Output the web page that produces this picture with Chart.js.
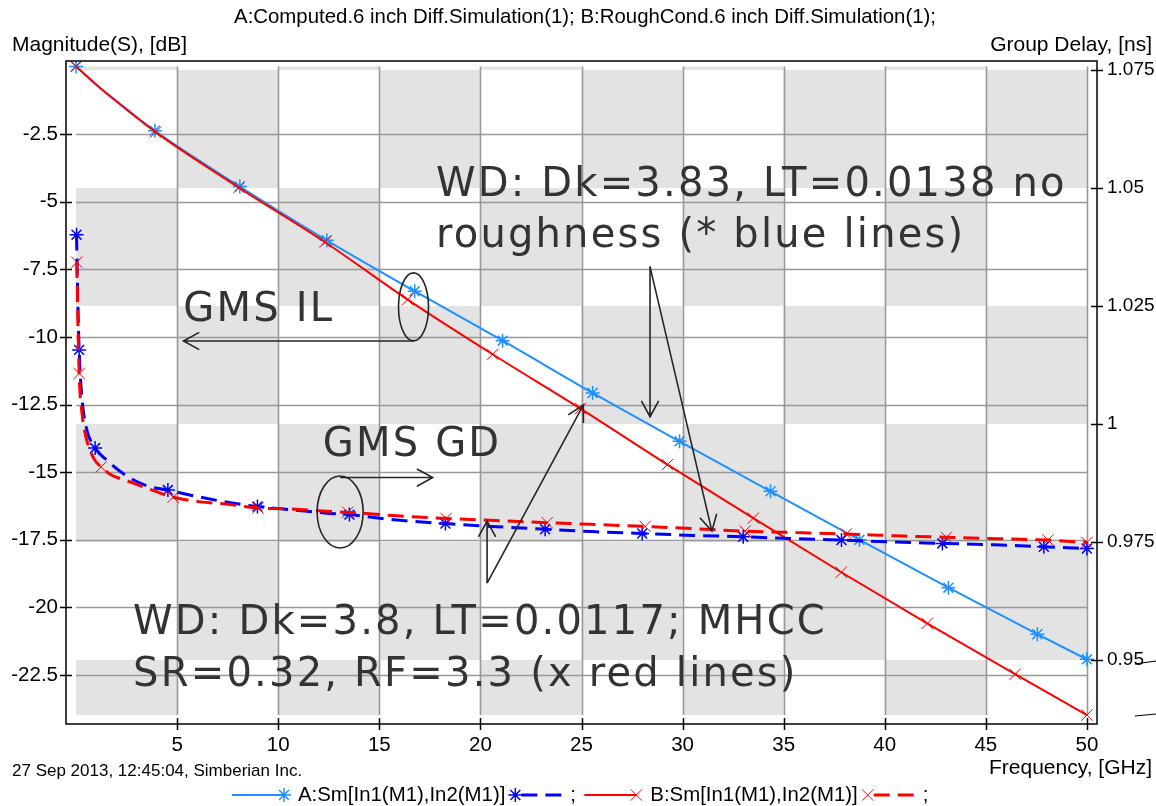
<!DOCTYPE html>
<html><head><meta charset="utf-8">
<script src="https://cdn.jsdelivr.net/npm/chart.js@4.4.0/dist/chart.umd.min.js"></script>
<style>html,body{margin:0;padding:0;background:#fff;overflow:hidden}canvas{display:block}</style>
</head><body>
<canvas id="c" width="1156" height="806"></canvas>
<script>
// ---------------- text ----------------
const titleText = 'A:Computed.6 inch Diff.Simulation(1); B:RoughCond.6 inch Diff.Simulation(1);';
const leftAxisTitle = 'Magnitude(S), [dB]';
const rightAxisTitle = 'Group Delay, [ns]';
const xAxisTitle = 'Frequency, [GHz]';
const stampText = '27 Sep 2013, 12:45:04, Simberian Inc.';
const seriesNames = ['A:Sm[In1(M1),In2(M1)]', 'B:Sm[In1(M1),In2(M1)]'];

// ---------------- ticks ----------------
const xTicks = [5, 10, 15, 20, 25, 30, 35, 40, 45, 50];
const yTicks = [-2.5, -5, -7.5, -10, -12.5, -15, -17.5, -20, -22.5];
const y2Ticks = [0.95, 0.975, 1, 1.025, 1.05, 1.075];

// ---------------- A: insertion loss (dB) ----------------
const ilA_f  = [0, 1, 2, 3.9, 8.1, 12.4, 16.75, 21.1, 25.55, 29.85, 34.35, 38.75, 43.15, 47.55, 50];
const ilA_db = [0, -0.68, -1.28, -2.38, -4.44, -6.43, -8.31, -10.14, -12.07, -13.86, -15.71, -17.5, -19.27, -20.99, -21.92];
const ilA_markers = [0, 3.9, 8.1, 12.4, 16.75, 21.1, 25.55, 29.85, 34.35, 38.75, 43.15, 47.55, 50];

// ---------------- B: insertion loss (dB) ----------------
const ilB_f  = [0, 1, 2, 3.93, 8.05, 12.3, 16.4, 20.6, 24.95, 29.25, 33.5, 37.85, 42.1, 46.45, 50];
const ilB_db = [0, -0.68, -1.3, -2.43, -4.48, -6.49, -8.62, -10.64, -12.65, -14.72, -16.7, -18.7, -20.59, -22.47, -23.98];
const ilB_markers = [0, 3.93, 8.05, 12.3, 16.4, 20.6, 24.95, 29.25, 33.5, 37.85, 42.1, 46.45, 50];

// ---------------- A: group delay (ns) ----------------
const gdA_f  = [0.02, 0.08, 0.15, 0.3, 0.5, 0.94, 1.5, 2.5, 3.5, 4.54, 5.8, 7.5, 8.97, 10.7, 12.4, 13.52, 15.7, 18.27, 20.5, 23.2, 25.5, 28.0, 30.5, 33.0, 35.5, 37.86, 40.4, 42.85, 45.4, 47.87, 50];
const gdA_ns = [1.0401, 1.027, 1.0157, 1.005, 0.9993, 0.9949, 0.9924, 0.989, 0.9869, 0.986, 0.9848, 0.9834, 0.9825, 0.9818, 0.9811, 0.9808, 0.9797, 0.9789, 0.9783, 0.9777, 0.9772, 0.9768, 0.9764, 0.9761, 0.9757, 0.9754, 0.975, 0.9747, 0.9744, 0.974, 0.9736];
const gdA_markers = [0.02, 0.15, 0.94, 4.54, 8.97, 13.52, 18.27, 23.2, 28.0, 33.0, 37.86, 42.85, 47.87, 50];

// ---------------- B: group delay (ns) ----------------
const gdB_f  = [0.03, 0.15, 0.3, 0.5, 0.9, 1.24, 1.7, 2.5, 3.5, 4.8, 6.15, 7.5, 9.0, 10.7, 12.4, 13.44, 15.7, 18.3, 20.5, 23.3, 25.7, 28.15, 30.6, 33.09, 35.6, 38.1, 40.6, 43.05, 45.6, 48.07, 50];
const gdB_ns = [1.0343, 1.0107, 1.002, 0.997, 0.9925, 0.9909, 0.9893, 0.988, 0.9864, 0.9845, 0.9835, 0.983, 0.9822, 0.982, 0.9815, 0.9813, 0.9806, 0.98, 0.9796, 0.9791, 0.9787, 0.9783, 0.9778, 0.9773, 0.977, 0.9767, 0.9763, 0.976, 0.9757, 0.9754, 0.9749];
const gdB_markers = [0.03, 0.15, 1.24, 4.8, 9.0, 13.44, 18.3, 23.3, 28.15, 33.09, 38.1, 43.05, 48.07, 50];

// ---------------- annotations (data units: GHz, dB on left axis) ----------------
const noteTexts = [
  {t: 'WD: Dk=3.83, LT=0.0138 no', x: 17.8, y: -4.78},
  {t: 'roughness (* blue lines)',  x: 17.8, y: -6.66},
  {t: 'GMS IL',                    x: 5.3,  y: -9.41},
  {t: 'GMS GD',                    x: 12.2, y: -14.4},
  {t: 'WD: Dk=3.8, LT=0.0117; MHCC', x: 2.82, y: -20.98},
  {t: 'SR=0.32, RF=3.3 (x red lines)', x: 2.82, y: -22.9}
];
const noteEllipses = [ {x: 16.69, y: -8.89, rx: 15, ry: 34}, {x: 13.06, y: -16.47, rx: 23, ry: 36} ];
const noteArrows = [
  {x1: 16.69, y1: -10.15, x2: 5.31,  y2: -10.15},
  {x1: 13.06, y1: -15.2,  x2: 17.64, y2: -15.2},
  {x1: 28.39, y1: -7.4,   x2: 28.39, y2: -12.95},
  {x1: 28.39, y1: -7.4,   x2: 31.45, y2: -17.18},
  {x1: 20.33, y1: -19.1,  x2: 20.33, y2: -16.81},
  {x1: 20.33, y1: -19.1,  x2: 25.09, y2: -12.52}
];

const UI_FONT = '"Liberation Sans", Arial, sans-serif';
const NOTE_FONT = '"DejaVu Sans", Verdana, sans-serif';
const COL_A_IL = '#1E90FF', COL_A_GD = '#0000FF', COL_B = '#FF0000';

function pts(fs, vs) { return fs.map((f, i) => ({x: f, y: vs[i]})); }
function markerRadius(list, r) { const s = new Set(list); return c => (c.raw && s.has(c.raw.x)) ? r : 0; }

const ticksFrom = arr => scale => { scale.ticks = arr.map(v => ({value: v})); };
const plainLabel = v => String(parseFloat(Number(v).toFixed(4)));

const backdrop = {
  id: 'backdrop',
  beforeDraw(chart) {
    const {ctx} = chart; const sx = chart.scales.x, sy = chart.scales.y, s2 = chart.scales.y2;
    const allF = ilA_f.concat(ilB_f), allDb = ilA_db.concat(ilB_db);
    const fMin = Math.min(...allF), fMax = Math.max(...allF);
    const L = sx.getPixelForValue(fMin), R = sx.getPixelForValue(fMax);
    const T = sy.getPixelForValue(Math.max(...allDb)), B = sy.getPixelForValue(Math.min(...allDb));
    const colB = [L].concat(xTicks.map(v => sx.getPixelForValue(v)));
    if (colB[colB.length - 1] < R) colB.push(R);
    const rowB = [T].concat(y2Ticks.slice().sort((a, b) => b - a).map(v => s2.getPixelForValue(v))).concat([B]);
    ctx.save();
    ctx.fillStyle = '#E3E3E3';
    for (let c = 0; c < colB.length - 1; c++) {
      for (let r = 0; r < rowB.length - 1; r++) {
        if ((c + r) % 2 === 0) {
          const top = Math.max(rowB[r], T), bot = Math.min(rowB[r + 1], B);
          if (bot > top) ctx.fillRect(colB[c], top, colB[c + 1] - colB[c], bot - top);
        }
      }
    }
    ctx.strokeStyle = '#999999'; ctx.lineWidth = 1.6;
    ctx.beginPath();
    xTicks.forEach(v => { const p = Math.round(sx.getPixelForValue(v)) + 0.5; ctx.moveTo(p, T); ctx.lineTo(p, B); });
    yTicks.forEach(v => { const p = Math.round(sy.getPixelForValue(v)) + 0.5; ctx.moveTo(L, p); ctx.lineTo(R, p); });
    ctx.stroke();
    ctx.restore();
  }
};

function arrow(ctx, x1, y1, x2, y2) {
  const a = Math.atan2(y2 - y1, x2 - x1), len = 18, w = 0.5;
  ctx.beginPath();
  ctx.moveTo(x1, y1); ctx.lineTo(x2, y2);
  ctx.moveTo(x2 - len * Math.cos(a - w), y2 - len * Math.sin(a - w));
  ctx.lineTo(x2, y2);
  ctx.lineTo(x2 - len * Math.cos(a + w), y2 - len * Math.sin(a + w));
  ctx.stroke();
}

const overlay = {
  id: 'overlay',
  afterDatasetsDraw(chart) {
    const {ctx} = chart; const sx = chart.scales.x, sy = chart.scales.y;
    ctx.save();
    ctx.strokeStyle = '#262626'; ctx.lineWidth = 1.6;
    noteEllipses.forEach(e => {
      ctx.beginPath();
      ctx.ellipse(sx.getPixelForValue(e.x), sy.getPixelForValue(e.y), e.rx, e.ry, 0, 0, Math.PI * 2);
      ctx.stroke();
    });
    noteArrows.forEach(a => arrow(ctx, sx.getPixelForValue(a.x1), sy.getPixelForValue(a.y1), sx.getPixelForValue(a.x2), sy.getPixelForValue(a.y2)));
    ctx.fillStyle = '#333333';
    ctx.font = '40px ' + NOTE_FONT;
    ctx.textBaseline = 'alphabetic'; ctx.textAlign = 'left';
    try { ctx.letterSpacing = '2.2px'; } catch (e) {}
    noteTexts.forEach(n => ctx.fillText(n.t, sx.getPixelForValue(n.x), sy.getPixelForValue(n.y)));
    try { ctx.letterSpacing = '0px'; } catch (e) {}
    ctx.restore();
  },
  afterDraw(chart) {
    const {ctx, chartArea: ca} = chart; const sx = chart.scales.x, sy = chart.scales.y, s2 = chart.scales.y2;
    ctx.save();
    // frame
    ctx.strokeStyle = '#000'; ctx.lineWidth = 1.5;
    ctx.strokeRect(ca.left, ca.top, ca.right - ca.left, ca.bottom - ca.top);
    // tick marks crossing the axes
    ctx.beginPath();
    yTicks.forEach(v => { const p = Math.round(sy.getPixelForValue(v)) + 0.5; ctx.moveTo(ca.left - 6, p); ctx.lineTo(ca.left + 6, p); });
    y2Ticks.forEach(v => { const p = Math.round(s2.getPixelForValue(v)) + 0.5; ctx.moveTo(ca.right - 6, p); ctx.lineTo(ca.right + 6, p); });
    xTicks.forEach(v => { const p = Math.round(sx.getPixelForValue(v)) + 0.5; ctx.moveTo(p, ca.bottom - 6); ctx.lineTo(p, ca.bottom + 6); });
    ctx.stroke();
    // stray marks at right margin
    ctx.lineWidth = 1.2;
    ctx.beginPath(); ctx.moveTo(1135, 664); ctx.lineTo(1156, 661); ctx.moveTo(1135, 716); ctx.lineTo(1156, 714); ctx.stroke();
    // texts
    ctx.fillStyle = '#000'; ctx.textBaseline = 'middle';
    ctx.font = '20.4px ' + UI_FONT;
    ctx.textAlign = 'center'; ctx.fillText(titleText, 585, 17);
    ctx.font = '21px ' + UI_FONT;
    ctx.textAlign = 'left'; ctx.fillText(leftAxisTitle, 12, 45);
    ctx.textAlign = 'right'; ctx.fillText(rightAxisTitle, 1152, 45);
    ctx.fillText(xAxisTitle, 1152, 768);
    ctx.font = '17px ' + UI_FONT;
    ctx.textAlign = 'left'; ctx.fillText(stampText, 12, 771);
    // legend
    const ds = chart.data.datasets;
    const ly = 795; let x = 232;
    ctx.font = '20.4px ' + UI_FONT;
    const dp = (Chart.helpers && Chart.helpers.drawPoint) ? Chart.helpers.drawPoint : null;
    function marker(d, px) {
      ctx.strokeStyle = d.pointBorderColor; ctx.fillStyle = d.pointBorderColor; ctx.lineWidth = d.pointBorderWidth;
      if (dp) dp(ctx, {pointStyle: d.pointStyle, radius: d.legendRadius, borderWidth: d.pointBorderWidth, rotation: 0}, px, ly);
    }
    [[ds[0], ds[1]], [ds[2], ds[3]]].forEach((pair, k) => {
      const il = pair[0], gd = pair[1];
      ctx.setLineDash([]); ctx.strokeStyle = il.borderColor; ctx.lineWidth = il.borderWidth;
      ctx.beginPath(); ctx.moveTo(x, ly); ctx.lineTo(x + 52, ly); ctx.stroke();
      marker(il, x + 52);
      x += 66;
      ctx.fillStyle = '#000'; ctx.textAlign = 'left'; ctx.fillText(il.label, x, ly);
      x += ctx.measureText(il.label).width + 10;
      marker(gd, x);
      ctx.setLineDash(gd.borderDash); ctx.strokeStyle = gd.borderColor; ctx.lineWidth = gd.borderWidth;
      ctx.beginPath(); ctx.moveTo(x + 6, ly); ctx.lineTo(x + 52, ly); ctx.stroke();
      ctx.setLineDash([]);
      ctx.fillStyle = '#000'; ctx.fillText(';', x + 55, ly);
      x += 69;
    });
    ctx.restore();
  }
};

const tickFont = {family: UI_FONT, size: 20.5};
const rightTickFont = {family: UI_FONT, size: 19};

const chart = new Chart(document.getElementById('c'), {
  type: 'line',
  data: {
    datasets: [
      {label: seriesNames[0], data: pts(ilA_f, ilA_db), yAxisID: 'y', borderColor: COL_A_IL, borderWidth: 2,
       pointStyle: 'star', pointRadius: markerRadius(ilA_markers, 7), legendRadius: 7, pointBorderColor: COL_A_IL, pointBackgroundColor: COL_A_IL,
       pointBorderWidth: 1.5, cubicInterpolationMode: 'monotone', fill: false, order: 4},
      {label: seriesNames[0] + ' GD', data: pts(gdA_f, gdA_ns), yAxisID: 'y2', borderColor: COL_A_GD, borderWidth: 3, borderDash: [16, 8],
       pointStyle: 'star', pointRadius: markerRadius(gdA_markers, 7), legendRadius: 7, pointBorderColor: COL_A_GD, pointBackgroundColor: COL_A_GD,
       pointBorderWidth: 1.5, cubicInterpolationMode: 'monotone', fill: false, order: 2},
      {label: seriesNames[1], data: pts(ilB_f, ilB_db), yAxisID: 'y', borderColor: COL_B, borderWidth: 2,
       pointStyle: 'crossRot', pointRadius: markerRadius(ilB_markers, 8), legendRadius: 8, pointBorderColor: COL_B, pointBackgroundColor: COL_B,
       pointBorderWidth: 1, cubicInterpolationMode: 'monotone', fill: false, order: 3},
      {label: seriesNames[1] + ' GD', data: pts(gdB_f, gdB_ns), yAxisID: 'y2', borderColor: COL_B, borderWidth: 3, borderDash: [16, 8],
       pointStyle: 'crossRot', pointRadius: markerRadius(gdB_markers, 8), legendRadius: 8, pointBorderColor: COL_B, pointBackgroundColor: COL_B,
       pointBorderWidth: 1, cubicInterpolationMode: 'monotone', fill: false, order: 1}
    ]
  },
  options: {
    responsive: false, animation: false, events: [],
    layout: {padding: {top: 61, left: 0, right: 0, bottom: 0}},
    plugins: {legend: {display: false}, title: {display: false}, tooltip: {enabled: false}},
    scales: {
      x: {type: 'linear', min: -0.5, max: 50.5, grid: {display: false}, border: {display: false},
          afterBuildTicks: ticksFrom(xTicks), afterFit: s => { s.height = 82; },
          ticks: {autoSkip: false, maxRotation: 0, padding: 1, color: '#000', font: tickFont, callback: plainLabel}},
      y: {type: 'linear', position: 'left', min: -24.31, max: 0.2, grid: {display: false}, border: {display: false},
          afterBuildTicks: ticksFrom(yTicks), afterFit: s => { s.width = 66; },
          ticks: {autoSkip: false, padding: 0, color: '#000', font: tickFont, callback: plainLabel}},
      y2: {type: 'linear', position: 'right', min: 0.93644, max: 1.0769, grid: {display: false}, border: {display: false},
           afterBuildTicks: ticksFrom(y2Ticks), afterFit: s => { s.width = 59; },
           ticks: {autoSkip: false, padding: 2, color: '#000', font: rightTickFont, callback: plainLabel}}
    }
  },
  plugins: [backdrop, overlay]
});
</script>
</body></html>
